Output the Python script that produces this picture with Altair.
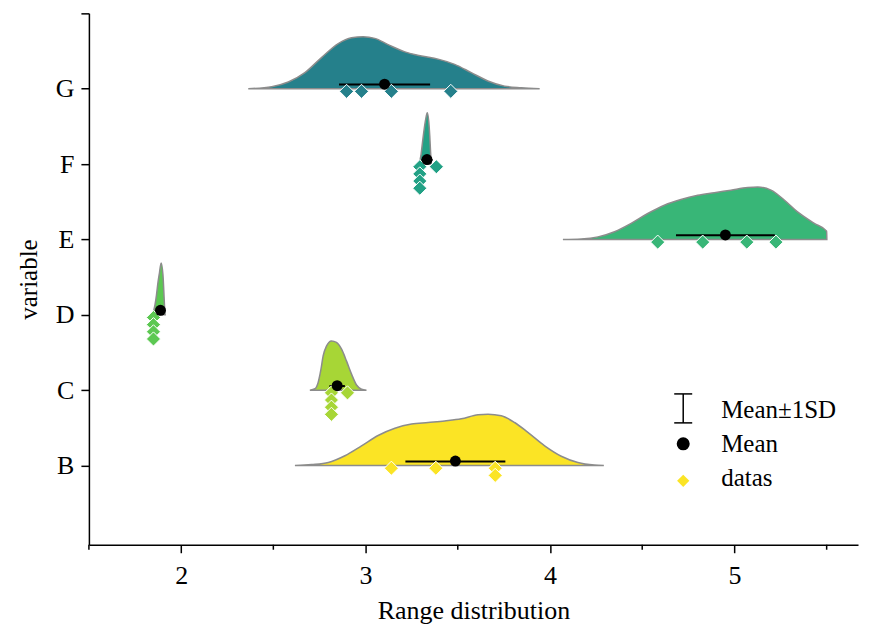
import json
import altair as alt
import pandas as pd

# ---------------- data ----------------
categories = ["B", "C", "D", "E", "F", "G"]
cat_pos = [2, 3, 4, 5, 6, 7]
colors = ["#fbe425", "#a7d636", "#5cc852", "#38b677", "#22a185", "#25808b"]

# half-violin outlines: x values and relative heights (peak ~1)
B_x = [2.617, 2.707, 2.798, 2.888, 2.978, 3.068, 3.159, 3.249, 3.339, 3.429, 3.519,
       3.610, 3.664, 3.736, 3.808, 3.880, 3.971, 4.061, 4.151, 4.241, 4.292]
B_h = [0, 0.02, 0.06, 0.19, 0.38, 0.58, 0.72, 0.80, 0.83, 0.86, 0.90,
       0.98, 0.99, 0.96, 0.83, 0.64, 0.38, 0.18, 0.06, 0.01, 0]
C_x = [2.698, 2.726, 2.743, 2.758, 2.770, 2.788, 2.815, 2.842, 2.870, 2.897, 2.924,
       2.951, 2.978, 3.005]
C_h = [0, 0.03, 0.15, 0.40, 0.66, 0.85, 0.95, 0.92, 0.79, 0.56, 0.31, 0.10, 0.02, 0]
D_x = [1.8446, 1.8583, 1.8664, 1.8744, 1.8826, 1.8917, 1.9015, 1.9058, 1.9096, 1.9134]
D_h = [0, 0.19, 0.38, 0.62, 0.81, 1.0, 0.77, 0.48, 0.19, 0]
E_x = [4.070, 4.169, 4.260, 4.350, 4.440, 4.530, 4.620, 4.710, 4.801, 4.891, 4.981,
       5.072, 5.126, 5.198, 5.270, 5.342, 5.433, 5.500, 5.501]
E_h = [0, 0.01, 0.05, 0.15, 0.31, 0.50, 0.66, 0.77, 0.85, 0.90, 0.95,
       1.0, 1.01, 0.95, 0.76, 0.53, 0.31, 0.16, 0]
F_x = [3.2902, 3.3010, 3.3091, 3.3173, 3.3254, 3.3346, 3.3427, 3.3481, 3.3525, 3.3568]
F_h = [0, 0.19, 0.43, 0.66, 0.85, 0.99, 0.82, 0.54, 0.23, 0]
G_x = [2.364, 2.491, 2.581, 2.671, 2.761, 2.852, 2.924, 2.987, 3.050, 3.122, 3.213,
       3.303, 3.393, 3.483, 3.573, 3.663, 3.754, 3.844, 3.944]
G_h = [0, 0.04, 0.13, 0.31, 0.60, 0.87, 0.98, 1.0, 0.97, 0.85, 0.71,
       0.63, 0.57, 0.47, 0.31, 0.15, 0.05, 0.02, 0]

# raw data points
B_pts = [3.140, 3.381, 3.703, 3.703]
C_pts = [2.815, 2.815, 2.815, 2.815, 2.902]
D_pts = [1.850, 1.850, 1.850, 1.850]
E_pts = [4.584, 4.828, 5.067, 5.225]
F_pts = [3.294, 3.294, 3.294, 3.294, 3.384]
G_pts = [2.897, 2.978, 3.140, 3.462]

# mean and SD per variable
means = [3.487, 2.846, 1.888, 4.951, 3.333, 3.103]
sds = [0.271, 0.042, 0.020, 0.268, 0.030, 0.247]

x_ticks = [2, 3, 4, 5]
x_minor = [1.5, 2.5, 3.5, 4.5, 5.5]
legend_labels = ["Mean±1SD", "Mean", "datas"]

# ---------------- tables ----------------
dens_x = [B_x, C_x, D_x, E_x, F_x, G_x]
dens_h = [B_h, C_h, D_h, E_h, F_h, G_h]
pts = [B_pts, C_pts, D_pts, E_pts, F_pts, G_pts]

violin_rows, point_rows, stat_rows = [], [], []
for cat, pos, xs, hs, ps, m, s in zip(categories, cat_pos, dens_x, dens_h, pts, means, sds):
    for xv, hv in zip(xs, hs):
        violin_rows.append({"variable": cat, "pos": pos, "x": xv, "h": hv})
    for pv in ps:
        point_rows.append({"variable": cat, "pos": pos, "value": pv})
    stat_rows.append({"variable": cat, "pos": pos, "mean": m, "sd": s})

violin_df = pd.DataFrame(violin_rows)
points_df = pd.DataFrame(point_rows)
stats_df = pd.DataFrame(stat_rows)
minor_df = pd.DataFrame({"v": x_minor})

FONT = "Liberation Serif"
W, H = 770, 532

xscale = alt.Scale(domain=[1.5, 5.67], nice=False, zero=False)
yscale = alt.Scale(domain=[0.95, 8.0], nice=False, zero=False)
color = alt.Color("variable:N", scale=alt.Scale(domain=categories, range=colors), legend=None)

label_expr = (
    f"indexof({json.dumps(cat_pos)}, datum.value) >= 0 ? "
    f"{json.dumps(categories)}[indexof({json.dumps(cat_pos)}, datum.value)] : ''"
)

xaxis = alt.Axis(
    values=x_ticks, format="d", title="Range distribution", grid=False,
    tickSize=8, tickWidth=1.5, tickColor="black", domainWidth=1.5, domainColor="black",
    labelFont=FONT, labelFontSize=26, labelColor="black", labelPadding=10,
    titleFont=FONT, titleFontSize=26, titleFontWeight="normal", titleColor="black",
    titlePadding=9,
)
yaxis = alt.Axis(
    values=cat_pos + [8], labelExpr=label_expr, title="variable", grid=False,
    tickSize=8, tickWidth=1.5, tickColor="black", domainWidth=1.5, domainColor="black",
    labelFont=FONT, labelFontSize=26, labelColor="black", labelPadding=7,
    titleFont=FONT, titleFontSize=25, titleFontWeight="normal", titleColor="black",
    titlePadding=14,
)

violins = alt.Chart(violin_df).transform_calculate(
    ytop="datum.pos + 0.689 * datum.h"
).mark_area(
    stroke="#8c8c8c", strokeWidth=1.5, opacity=1, fillOpacity=1, interpolate="monotone"
).encode(
    x=alt.X("x:Q", scale=xscale, axis=xaxis),
    y=alt.Y("ytop:Q", scale=yscale, axis=yaxis),
    y2="pos:Q",
    color=color,
    detail="variable:N",
)

errbars = alt.Chart(stats_df).transform_calculate(
    lo="datum.mean - datum.sd", hi="datum.mean + datum.sd", yl="datum.pos + 0.055"
).mark_rule(color="black", strokeWidth=2).encode(
    x="lo:Q", x2="hi:Q", y="yl:Q"
)

points = alt.Chart(points_df).transform_window(
    level="row_number()", groupby=["variable", "value"]
).transform_calculate(
    yp="datum.pos - 0.035 - 0.095 * (datum.level - 1)"
).mark_point(
    shape="diamond", filled=True, size=200, stroke="white", strokeWidth=1, opacity=1
).encode(x="value:Q", y="yp:Q", color=color)

meanpts = alt.Chart(stats_df).transform_calculate(
    ym="datum.pos + 0.06"
).mark_point(shape="circle", filled=True, size=120, color="black", opacity=1).encode(
    x="mean:Q", y="ym:Q"
)

minor = alt.Chart(minor_df).mark_rule(color="black", strokeWidth=1.5).encode(
    x="v:Q", y=alt.value(H), y2=alt.value(H + 5)
)

# ---------------- legend ----------------
leg_x_sym, leg_x_txt = 595, 633
leg_rows = [397, 431, 465]
legend_layers = []
for lab, ly in zip(legend_labels, leg_rows):
    legend_layers.append(
        alt.Chart(pd.DataFrame({"label": [lab]})).mark_text(
            align="left", baseline="middle", font=FONT, fontSize=25, color="black"
        ).encode(x=alt.value(leg_x_txt), y=alt.value(ly), text="label:N")
    )
ldf = pd.DataFrame({"label": legend_labels})
leg_bar = alt.Chart(ldf.head(1)).mark_rule(color="black", strokeWidth=1.5).encode(
    x=alt.value(leg_x_sym), y=alt.value(leg_rows[0] - 16), y2=alt.value(leg_rows[0] + 13)
)
leg_cap1 = alt.Chart(ldf.head(1)).mark_rule(color="black", strokeWidth=1.5).encode(
    x=alt.value(leg_x_sym - 9), x2=alt.value(leg_x_sym + 9), y=alt.value(leg_rows[0] - 16)
)
leg_cap2 = alt.Chart(ldf.head(1)).mark_rule(color="black", strokeWidth=1.5).encode(
    x=alt.value(leg_x_sym - 9), x2=alt.value(leg_x_sym + 9), y=alt.value(leg_rows[0] + 13)
)
leg_dot = alt.Chart(ldf.head(1)).mark_point(
    shape="circle", filled=True, size=170, color="black", opacity=1
).encode(x=alt.value(leg_x_sym), y=alt.value(leg_rows[1]))
leg_dia = alt.Chart(ldf.head(1)).mark_point(
    shape="diamond", filled=True, size=150, color=colors[0], opacity=1
).encode(x=alt.value(leg_x_sym), y=alt.value(leg_rows[2] + 3))

chart = alt.layer(
    violins, errbars, points, meanpts, minor,
    leg_bar, leg_cap1, leg_cap2, leg_dot, leg_dia, *legend_layers
).properties(
    width=W, height=H,
    autosize=alt.AutoSizeParams(type="none"),
    padding={"left": 81, "top": 5, "right": 10, "bottom": 86},
    background="white",
).configure_view(stroke=None)

chart.save("out.html", embed_options={"renderer": "svg", "actions": False})
